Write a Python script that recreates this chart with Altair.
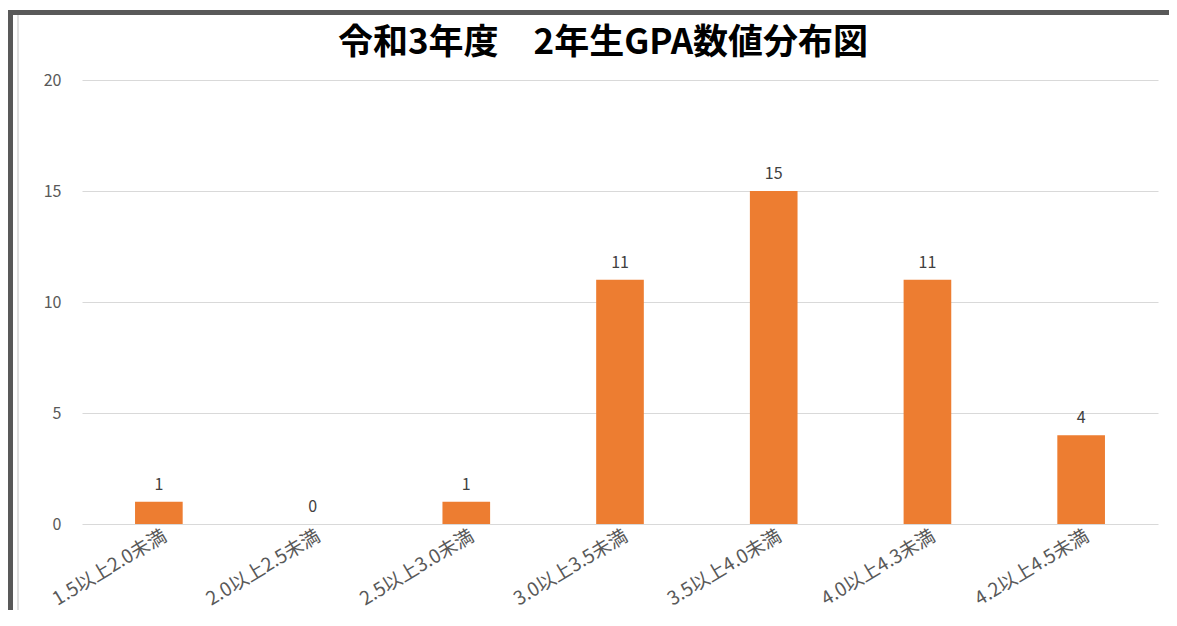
import altair as alt
import pandas as pd

categories = ["1.5以上2.0未満", "2.0以上2.5未満", "2.5以上3.0未満", "3.0以上3.5未満",
              "3.5以上4.0未満", "4.0以上4.3未満", "4.2以上4.5未満"]
counts = [1, 0, 1, 11, 15, 11, 4]
y_ticks = [0, 5, 10, 15, 20]
title_text = "令和3年度　2年生GPA数値分布図"

df = pd.DataFrame({"cat": categories, "n": counts})

FONT = "Noto Sans CJK JP"

x_enc = alt.X("cat:N", sort=categories, title=None,
              scale=alt.Scale(paddingInner=0.69, paddingOuter=0.345),
              axis=alt.Axis(labelAngle=-31, labelAlign="right", labelBaseline="middle",
                            labelPadding=10, labelOffset=6, labelFontSize=19,
                            labelColor="#595959", labelFont=FONT,
                            ticks=False, domain=False, grid=False, labelLimit=300))
y_enc = alt.Y("n:Q", title=None,
              scale=alt.Scale(domain=[0, 20]),
              axis=alt.Axis(values=y_ticks, labelFontSize=16, labelColor="#595959",
                            labelFont=FONT, labelPadding=21, ticks=False, domain=False,
                            grid=True, gridColor="#d9d9d9", gridWidth=1))

bars = alt.Chart(df).mark_bar(color="#ED7D31").encode(x=x_enc, y=y_enc)
labels = alt.Chart(df).mark_text(baseline="bottom", dy=-9, fontSize=16,
                                 color="#404040", font=FONT).encode(
    x=alt.X("cat:N", sort=categories), y="n:Q", text="n:Q")

deco_df = alt.Data(values=[{"t": title_text}])
title_mark = alt.Chart(deco_df).mark_text(
    fontSize=35, font=FONT, fontWeight="bold", color="#000000",
    align="center", baseline="middle").encode(
    x=alt.value(521), y=alt.value(-37), text="t:N")
top_border = alt.Chart(deco_df).mark_rule(color="#595959", strokeWidth=5).encode(
    x=alt.value(-74), x2=alt.value(1100), y=alt.value(-67.5))
left_border = alt.Chart(deco_df).mark_rule(color="#595959", strokeWidth=5).encode(
    x=alt.value(-71.5), y=alt.value(-70), y2=alt.value(560))
inner_line = alt.Chart(deco_df).mark_rule(color="#e0e0e0", strokeWidth=2).encode(
    x=alt.value(-64), y=alt.value(-65), y2=alt.value(560))

chart = alt.layer(bars, labels, title_mark, top_border, left_border, inner_line).properties(
    width=1076, height=444,
    autosize=alt.AutoSizeParams(type="none"),
    padding={"left": 74, "top": 72, "right": 11, "bottom": 86},
).configure(background="#ffffff").configure_view(strokeWidth=0)

chart.save("out.html", embed_options={"renderer": "svg", "actions": False})
